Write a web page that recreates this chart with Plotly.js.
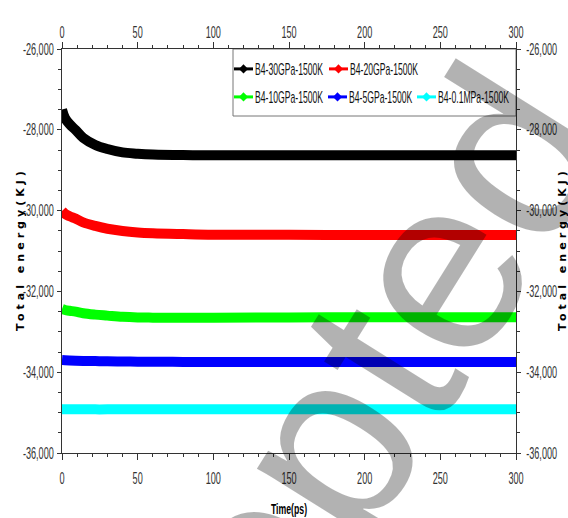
<!DOCTYPE html>
<html>
<head>
<meta charset="utf-8">
<script src="https://cdn.plot.ly/plotly-3.0.1.min.js"></script>
<style>
html,body{margin:0;padding:0;background:#fff;}
#chart{width:568px;height:518px;}
/* the reference uses a tall, narrow face for the legend entries */
#chart text.legendtext, #chart text.legend2text, #chart text.legend3text,
#chart text.legend4text, #chart text.legend5text{transform:scaleX(0.54);transform-box:fill-box;transform-origin:0% 50%;}
</style>
</head>
<body>
<div id="chart"></div>
<script>
// ---- data ----
const time = [0, 2, 5, 9, 14, 22, 30, 40, 50, 60, 80, 100, 150, 200, 250, 300];
const e30GPa = [-27500, -27710, -27860, -28005, -28200, -28376, -28475, -28560, -28590, -28610, -28625, -28630, -28630, -28630, -28630, -28630];
const e20GPa = [-30010, -30080, -30140, -30200, -30290, -30380, -30450, -30505, -30540, -30560, -30580, -30595, -30600, -30605, -30605, -30605];
const e10GPa = [-32435, -32460, -32480, -32500, -32540, -32575, -32600, -32630, -32645, -32650, -32655, -32650, -32645, -32640, -32640, -32640];
const e5GPa  = [-33700, -33705, -33710, -33715, -33720, -33725, -33730, -33735, -33740, -33740, -33745, -33745, -33750, -33750, -33750, -33750];
const e01MPa = [-34920, -34920, -34920, -34920, -34920, -34920, -34920, -34915, -34915, -34915, -34915, -34915, -34915, -34915, -34915, -34915];
const seriesNames = ['B4-30GPa-1500K', 'B4-20GPa-1500K', 'B4-10GPa-1500K', 'B4-5GPa-1500K', 'B4-0.1MPa-1500K'];
const seriesColors = ['#000000', '#ff0000', '#00ff00', '#0000ff', '#00ffff'];
const xTickVals = [0, 50, 100, 150, 200, 250, 300];
const yTickVals = [-26000, -28000, -30000, -32000, -34000, -36000];
const yTickText = ['-26,000', '-28,000', '-30,000', '-32,000', '-34,000', '-36,000'];
const xTitle = 'Time(ps)';
const yTitle = 'Total energy(KJ)';
const watermarkText = 'Accepted';

const seriesValues = [e30GPa, e20GPa, e10GPa, e5GPa, e01MPa];
// one legend box per entry, so the entries sit where the reference puts them
const legendIds = ['legend', 'legend2', 'legend3', 'legend4', 'legend5'];
const legendTextStart = [255, 350, 255, 349, 438];   // px
const legendRowY = [69, 69, 97, 97, 97];             // px

const traces = [];
seriesValues.forEach((vals, i) => {
  traces.push({
    x: time, y: vals, type: 'scatter', mode: 'lines',
    line: {color: seriesColors[i], width: 10, shape: 'spline'},
    showlegend: false, hoverinfo: 'skip'
  });
});
seriesNames.forEach((nm, i) => {
  traces.push({
    x: [null], y: [null], xaxis: 'x2', yaxis: 'y2', type: 'scatter', mode: 'lines+markers',
    name: nm, legend: legendIds[i], showlegend: true,
    line: {color: seriesColors[i], width: 3},
    marker: {color: seriesColors[i], symbol: 'diamond', size: 7}
  });
});

const narrow = 'Liberation Sans, Arial, sans-serif';
const tickFont = {family: narrow, size: 16, color: '#333'};
const yTitleFont = {family: 'DejaVu Sans, Verdana, sans-serif', size: 11, color: '#000', weight: 'bold'};

const xCommon = {
  range: [0, 300], tickmode: 'array', tickvals: xTickVals, ticks: 'outside', ticklen: 6, tickwidth: 1, tickcolor: '#333',
  minor: {tickmode: 'linear', tick0: 0, dtick: 10, ticks: 'outside', ticklen: 3, tickcolor: '#333'},
  showline: true, linecolor: '#333', linewidth: 1, showgrid: false, zeroline: false, tickfont: tickFont, fixedrange: true
};
const yCommon = {
  range: [-36000, -26000], tickmode: 'array', tickvals: yTickVals, ticktext: yTickText, ticks: 'outside', ticklen: 4, tickwidth: 1, tickcolor: '#333',
  minor: {tickmode: 'linear', tick0: -36000, dtick: 500, ticks: 'outside', ticklen: 3, tickcolor: '#333'},
  showline: true, linecolor: '#333', linewidth: 1, showgrid: false, zeroline: false, tickfont: tickFont, fixedrange: true
};

const L = 62, R = 52, T = 49, B = 65, W = 568, H = 518;
const pw = W - L - R, ph = H - T - B;
const px2paperX = p => (p - L) / pw;
const px2paperY = p => (H - B - p) / ph;

const layout = {
  width: W, height: H,
  margin: {l: L, r: R, t: T, b: B, autoexpand: false},
  paper_bgcolor: '#fff', plot_bgcolor: '#fff',
  xaxis: Object.assign({}, xCommon, {ticklabelstandoff: 5,
    title: {text: xTitle, font: {family: narrow, size: 15, color: '#000', weight: 'bold'}, standoff: 17}
  }),
  xaxis2: Object.assign({}, xCommon, {overlaying: 'x', side: 'top', anchor: 'y', ticklabelstandoff: 5}),
  yaxis: Object.assign({}, yCommon, {ticklabelstandoff: 0}),
  yaxis2: Object.assign({}, yCommon, {overlaying: 'y', side: 'right', anchor: 'x', ticklabelstandoff: 2}),
  shapes: [{type: 'rect', xref: 'paper', yref: 'paper', x0: px2paperX(233), x1: 1, y0: px2paperY(116), y1: 1,
    line: {color: '#777', width: 1}, fillcolor: '#fff', layer: 'below'}],
  annotations: [
    {text: yTitle, xref: 'paper', yref: 'paper', x: px2paperX(20), y: 0.5, showarrow: false, textangle: -90,
     xanchor: 'center', yanchor: 'middle', font: yTitleFont},
    {text: yTitle, xref: 'paper', yref: 'paper', x: px2paperX(562), y: 0.5, showarrow: false, textangle: -90,
     xanchor: 'center', yanchor: 'middle', font: yTitleFont},
    {text: watermarkText, xref: 'paper', yref: 'paper', x: px2paperX(268), y: px2paperY(536), showarrow: false,
     xanchor: 'center', yanchor: 'middle', textangle: -58,
     font: {family: 'Liberation Sans, Arial, sans-serif', size: 250, color: 'rgba(0,0,0,0.3)'}}
  ],
  showlegend: true
};
legendIds.forEach((id, i) => {
  layout[id] = {
    orientation: 'h', x: px2paperX(legendTextStart[i] - 40), xanchor: 'left',
    y: px2paperY(legendRowY[i]), yanchor: 'middle', bgcolor: 'rgba(0,0,0,0)', borderwidth: 0,
    font: {family: narrow, size: 16, color: '#111'}, itemwidth: 30
  };
});

// condense the tick/title text horizontally (the reference uses a tall, narrow face)
function tidy(gd) {
  const squeeze = (sel, f) => gd.querySelectorAll(sel).forEach(t => {
    if (t.getAttribute('data-sq') === t.textContent) return;
    t.removeAttribute('textLength');
    const len = t.getComputedTextLength();
    if (len > 0) {
      t.setAttribute('textLength', (len * f).toFixed(1));
      t.setAttribute('lengthAdjust', 'spacingAndGlyphs');
      t.setAttribute('data-sq', t.textContent);
    }
  });
  squeeze('.xtick text, .x2tick text, .ytick text, .y2tick text', 0.57);
  squeeze('.xtitle', 0.58);
  gd.querySelectorAll('.x2tick text').forEach(t => { if (t.getAttribute('dy') !== '7') t.setAttribute('dy', '7'); });
  gd.querySelectorAll('.annotation-text').forEach(t => {
    if (t.textContent === yTitle && t.getAttribute('textLength') !== '160') {
      t.setAttribute('textLength', '160'); t.setAttribute('lengthAdjust', 'spacing');
    }
  });
  const linesSel = legendIds.map(id => '.' + id + 'lines path').join(', ') + ', .legendlines path';
  const ptsSel = legendIds.map(id => '.' + id + 'points path.scatterpts').join(', ') + ', .legendpoints path.scatterpts';
  gd.querySelectorAll(linesSel).forEach(p => { if (p.getAttribute('d') !== 'M19,0h19') p.setAttribute('d', 'M19,0h19'); });
  gd.querySelectorAll(ptsSel).forEach(p => {
    if (p.getAttribute('transform') !== 'translate(28.5,0)') p.setAttribute('transform', 'translate(28.5,0)');
  });
}

const gdEl = document.getElementById('chart');
const obs = new MutationObserver(() => tidy(gdEl));
obs.observe(gdEl, {childList: true, subtree: true, characterData: true});
Plotly.newPlot(gdEl, traces, layout, {displayModeBar: false, staticPlot: true}).then(gd => {
  tidy(gd);
  gd.on('plotly_afterplot', () => tidy(gd));
  [30, 100, 250, 500, 1000].forEach(ms => setTimeout(() => tidy(gd), ms));
});
</script>
</body>
</html>
